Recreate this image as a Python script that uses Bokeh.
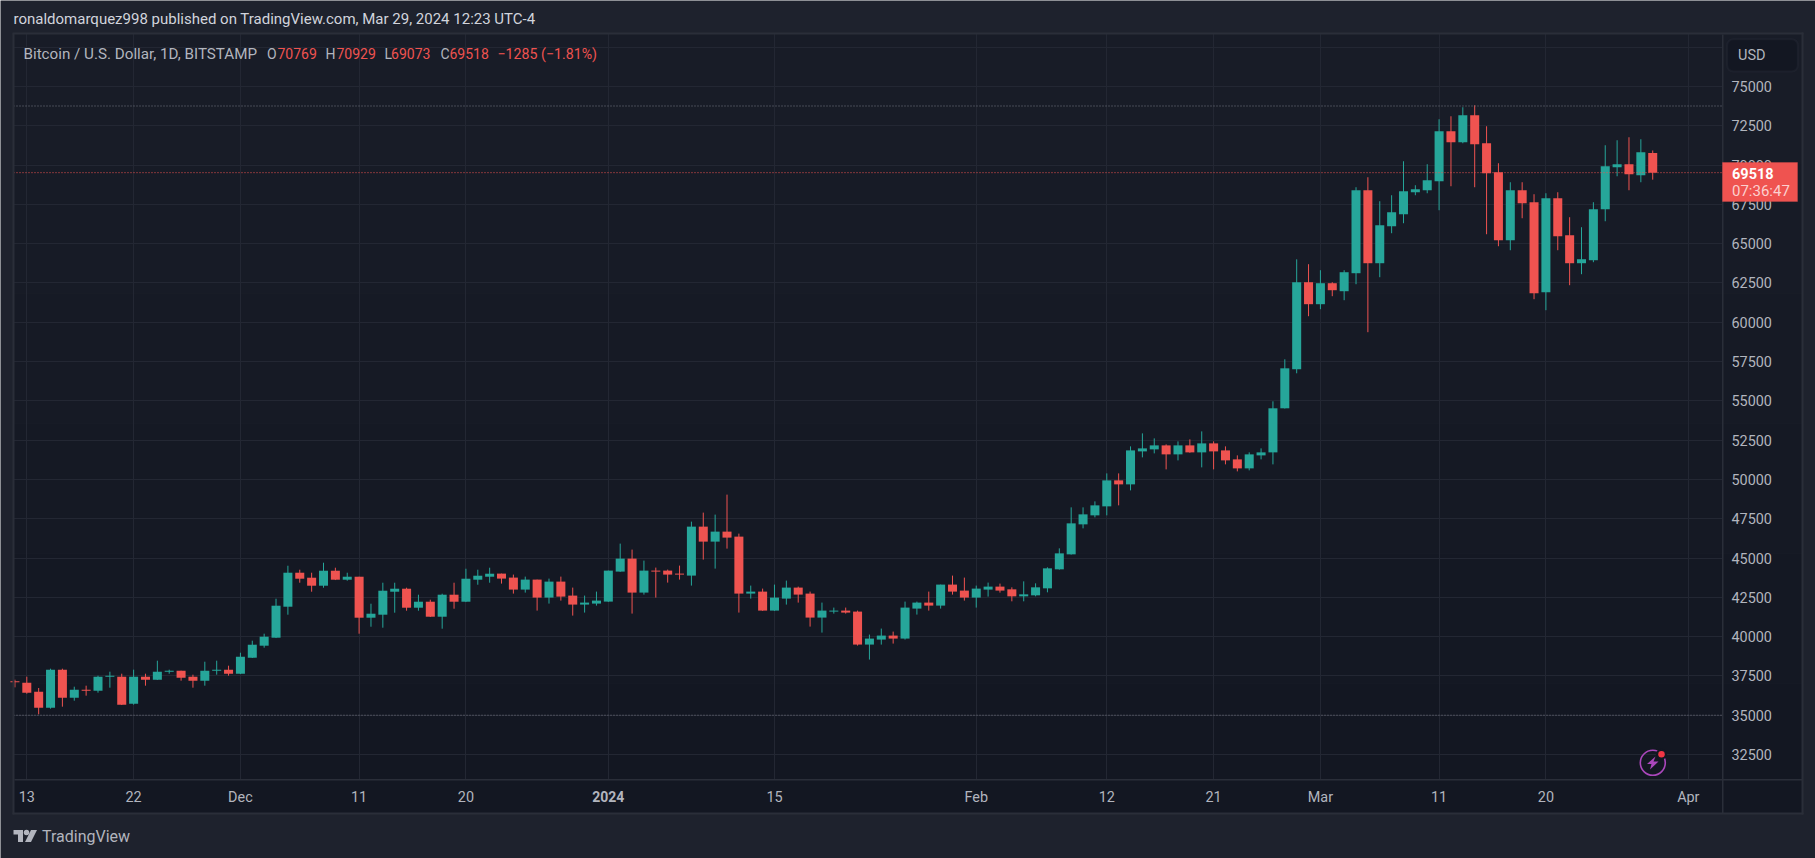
import numpy as np
from bokeh.plotting import figure
from bokeh.models import (BoxAnnotation, Label, FixedTicker, PolyAnnotation,
                          ColumnDataSource, NumeralTickFormatter, Range1d)
from bokeh.embed import file_html
from bokeh.resources import INLINE

FONT = "Roboto"
# Days counted from 13 Nov 2023; first candle is 12 Nov 2023, last is 29 Mar 2024
first_day = -1
opens = [37156,37071,36498,35481,37898,36117,36626,36562,37452,37452,35735,37452,37262,37770,37834,37452,37198,37834,37898,37643,
38661,39424,39933,41904,44067,43749,43240,44194,43622,43812,41205,41396,42858,43049,41841,42222,41268,42668,42222,43622,
43812,44010,43756,42993,43629,42484,43501,42611,42039,42102,42229,44138,44964,42802,44201,44201,44010,43883,46999,46045,
46681,46363,42738,42865,41657,42420,43120,42738,41212,41593,41657,41593,39495,39813,40067,39876,41784,42166,41975,43311,
42929,42484,42993,43183,43010,42564,42628,43073,44282,45236,47144,47716,48288,49942,49688,51786,51914,52168,51596,52168,
51723,52295,51850,51278,50705,51532,51723,54527,57008,62549,61150,62485,61976,63121,68400,63757,66110,66874,68273,68400,
68972,72152,71453,73170,71389,69545,65220,68400,67637,61913,67891,65538,63757,63948,67192,69863,70054,69354,70769]
highs = [37262,37452,36732,37961,37961,36816,36880,37516,37770,37643,37898,37643,38470,37898,37834,37580,38406,38470,38152,38979,
39742,40187,42413,44512,44258,44067,44703,44385,44067,43812,42095,43431,43431,43113,42668,42350,42731,43431,44321,44258,
44385,44010,43947,43819,43629,43692,43819,43120,42611,42865,44201,45918,45537,44837,44392,44265,44519,47317,47890,47763,
49035,46554,43247,43056,43311,43565,43183,42865,42166,41848,41848,41657,40131,40512,40321,42229,42229,42865,43311,43883,
43756,43247,43438,43374,43137,43518,43391,44409,45617,48225,48225,48606,50387,50387,52104,52931,52613,52232,52422,52550,
53058,52422,52104,51532,51723,51977,54972,57644,64004,63694,63312,62549,63312,68591,69227,67700,68082,70244,68718,70054,
72916,73106,73679,73806,72470,70117,68909,68909,68146,68209,68273,66683,66047,67637,71262,71580,71771,71644,70929]
lows = [36774,36371,35057,35417,35544,35926,36244,36435,36753,35650,35672,36880,37240,37643,37198,36753,36880,37580,37516,37620,
38640,39297,39910,41396,43431,42858,43113,43600,43558,40187,40632,40569,41523,41650,41650,41250,40505,41777,42200,43304,
43431,43374,42738,42802,41657,42102,42293,41339,41530,41975,42210,44120,41466,42675,42484,43438,43629,43247,44901,44328,
45600,41530,42420,41640,41640,42039,42166,40639,40258,41466,41466,39431,38541,39495,39558,39813,41403,41657,41784,42675,
42293,41848,42547,42802,42246,42246,42564,42819,44260,45220,46889,47589,47716,48352,49306,51405,51659,50642,51214,51700,
50769,50642,50960,50514,50578,51278,50960,54510,56753,60386,60832,61658,61404,62422,59369,62867,65665,66301,68082,68209,
67128,68654,71389,68591,65602,64838,64584,66619,61468,60768,64584,62358,63058,63821,66428,69290,68400,68909,69073]
closes = [37092,36435,35481,37898,36117,36626,36562,37452,37516,35672,37452,37262,37770,37834,37389,37198,37834,37898,37643,38724,
39488,39996,41968,44067,43685,43240,44194,43622,43812,41205,41459,42922,43049,41841,42222,41268,42668,42222,43685,43876,
44003,43692,42993,43629,42484,43501,42547,42039,42166,42293,44201,44964,42802,44201,44138,43947,43947,46999,46045,46681,
46300,42738,42865,41657,42484,43120,42675,41212,41657,41657,41530,39495,39876,40067,39876,41848,42166,41975,43311,42865,
42484,43056,43183,42929,42564,42692,43137,44345,45299,47207,47780,48352,49942,49688,51850,51977,52168,51596,52168,51723,
52295,51786,51214,50705,51596,51723,54527,57071,62541,61150,62485,62040,63185,68400,63757,66174,66999,68336,68464,69036,
72152,71453,73170,71326,69481,65220,68400,67573,61849,67891,65474,63757,64012,67192,69926,70054,69418,70817,69518]

price_ticks = [32500,35000,37500,40000,42500,45000,47500,50000,52500,55000,57500,60000,62500,65000,67500,70000,72500,75000,77500]
time_ticks = [0,9,18,28,37,49,63,80,91,100,109,119,128,140]
time_labels = ["13","22","Dec","11","20","","15","Feb","12","21","Mar","11","20","Apr"]
year_tick = 49
year_label = "2024"
level_high = 73760
level_low = 35000
last_price = 69518

UP, DOWN = "#26a69a", "#ef5350"
OUTER, EDGE, GRID = "#1e222d", "#2a2e39", "#232733"
TEXT = "#b2b5be"

days = np.arange(first_day, first_day + len(opens))
o, h, l, c = map(np.array, (opens, highs, lows, closes))
colors = [UP if cc >= oo else DOWN for oo, cc in zip(opens, closes)]
src = ColumnDataSource(dict(x=days, top=np.maximum(o, c), bottom=np.minimum(o, c), high=h, low=l, color=colors))

L, R, T, B = 13, 1722, 33, 779   # chart pane in page pixels
px2x = lambda v: (v - 26.3) / 11.868
px2y = lambda v: 75000 - (v - 86.0) * 63.62
p = figure(width=1815, height=858, output_backend="svg", toolbar_location=None,
           y_axis_location="right",
           x_range=Range1d(px2x(0), px2x(1815)),
           y_range=Range1d(px2y(858), px2y(0)),
           min_border=0)
p.border_fill_color = OUTER
p.background_fill_color = OUTER
p.outline_line_color = None


def rect(l_, r_, t_, b_, col, **kw):
    return p.quad(left=px2x(l_), right=px2x(r_), top=px2y(t_), bottom=px2y(b_), fill_color=col, line_color=None, **kw)


def box(l_, r_, t_, b_, **kw):
    a = BoxAnnotation(left=l_, right=r_, top=t_, bottom=b_, left_units="canvas", right_units="canvas",
                      top_units="canvas", bottom_units="canvas", **kw)
    p.add_layout(a)
    return a


def text(x, y, s, color=TEXT, size=14, **kw):
    kw.setdefault("x_units", "canvas")
    a = Label(x=x, y=y, y_units="canvas", text=s, text_color=color,
              text_font_size=f"{size}px", text_font=FONT, text_baseline="middle", **kw)
    p.add_layout(a)
    return a


# panel gradient behind plot and axis strips
band_cols = ["#181c27", "#171b26", "#161a25", "#151924", "#141823", "#131722"]
edges = [33, 163, 293, 423, 553, 683, 813]
for i, col in enumerate(band_cols):
    rect(13, 1802, edges[i], edges[i + 1], col, level="image")

p.xaxis.ticker = FixedTicker(ticks=time_ticks)
p.xaxis.major_label_overrides = {t: s for t, s in zip(time_ticks, time_labels)}
p.xaxis.fixed_location = px2y(B)
p.yaxis.ticker = FixedTicker(ticks=price_ticks)
p.yaxis.formatter = NumeralTickFormatter(format="0")
p.yaxis.major_label_overrides = {77500: ""}
p.yaxis.fixed_location = px2x(R)
for ax in (p.xaxis[0], p.yaxis[0]):
    ax.axis_line_color = None
    ax.major_tick_line_color = None
    ax.minor_tick_line_color = None
    ax.major_label_text_color = TEXT
    ax.major_label_text_font = FONT
    ax.major_label_text_font_size = "14.4px"
p.xaxis.major_label_standoff = 3
p.yaxis.major_label_standoff = 3
p.xgrid.ticker = FixedTicker(ticks=time_ticks)
p.ygrid.ticker = FixedTicker(ticks=price_ticks)
p.xgrid.cross_bounds = (px2y(B), px2y(T))
p.ygrid.cross_bounds = (px2x(L), px2x(R))
p.grid.grid_line_color = GRID
p.grid.grid_line_width = 1

# candles
p.segment("x", "high", "x", "low", source=src, line_color="color", line_width=1)
p.vbar("x", 0.76, "top", "bottom", source=src, fill_color="color", line_color=None)

# levels
for lev, col in [(level_high, "#787b86"), (level_low, "#787b86"), (last_price, DOWN)]:
    p.segment(px2x(L), lev, px2x(R), lev, line_color=col, line_width=1, line_dash="1 2")

# frame lines
rect(12, 14, 33, 814, EDGE)
rect(12, 1803, 32, 34, EDGE)
rect(1801, 1803, 32, 814, EDGE)
rect(12, 1803, 812, 814, EDGE)
rect(14, 1802, 778.5, 780, EDGE)
rect(1721.5, 1723, 34, 813, EDGE)

# header
text(13, 18.5, "ronaldomarquez998 published on TradingView.com, Mar 29, 2024 12:23 UTC-4", color="#d1d4dc", size=15)
text(23, 53, "Bitcoin / U.S. Dollar, 1D, BITSTAMP", size=15.2)
for x_, s_, v_, vx in [(266.5, "O", "70769", 277), (325, "H", "70929", 336), (384, "L", "69073", 390.6), (440, "C", "69518", 449)]:
    text(x_, 53, s_)
    text(vx, 53, v_, color=DOWN)
text(497, 53, "\u22121285 (\u22121.81%)", color=DOWN, size=14.2)

# bold year on the time axis
text(year_tick, 795.5, year_label, x_units="data", text_font_style="bold", text_align="center")

# USD button
box(1726.7, 1797.3, 38.7, 71, fill_color="#131722", fill_alpha=1, line_color="#2e323e", line_width=2, border_radius=6)
text(1737.5, 54.5, "USD", size=14.5)

# last price tag
box(1722, 1797, 162, 201, fill_color=DOWN, fill_alpha=1, line_color=DOWN)
text(1731.5, 172.7, "69518", color="#ffffff", text_font_style="bold", size=14.5)
text(1731.5, 190.7, "07:36:47", color="#fbd0cf", size=15)


# TradingView logo
def poly(xs, ys, color, **kw):
    p.add_layout(PolyAnnotation(xs=xs, ys=ys, xs_units="canvas", ys_units="canvas", fill_color=color, fill_alpha=1,
                                line_color=None, **kw))


LOGO = "#b2b5be"
poly([13, 22.5, 22.5, 17.5, 17.5, 13], [829.5, 829.5, 841.5, 841.5, 834, 834], LOGO)
poly([30.5, 36.5, 30.5, 24.5], [829.5, 829.5, 841.5, 841.5], LOGO)
p.scatter([px2x(26)], [px2y(832)], size=5.5, fill_color=LOGO, line_color=None)
text(41.5, 836, "TradingView", color=LOGO, size=16)

# lightning icon
p.scatter([px2x(1652.3)], [px2y(762.3)], size=25, fill_color=None, line_color="#ab47bc", line_width=1.6)
p.scatter([px2x(1661)], [px2y(753.7)], size=11, fill_color="#131722", line_color=None)
p.scatter([px2x(1661)], [px2y(753.7)], size=6.5, fill_color="#f23645", line_color=None)
poly([1655, 1646.5, 1651, 1649.5, 1658, 1653], [756, 763.5, 763.5, 769, 761, 761], "#ab47bc")

html = file_html(p, INLINE)
open("out.html", "w").write(html)
